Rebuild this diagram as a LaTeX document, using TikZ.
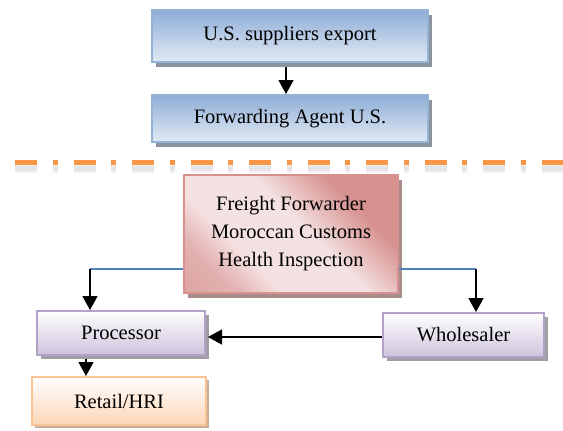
\documentclass[tikz,border=0pt]{standalone}
\usepackage{fontspec}
\setmainfont{Liberation Serif}
\usetikzlibrary{arrows.meta,shadows}
\definecolor{bluetop}{HTML}{8EADD6}
\definecolor{bluebot}{HTML}{E2EAF4}
\definecolor{blueborder}{HTML}{95B3D7}
\definecolor{blueshadow}{HTML}{8A939E}
\definecolor{pinkdark}{HTML}{D6908E}
\definecolor{pinkmid}{HTML}{E2B2B1}
\definecolor{pinklight}{HTML}{F4E2E2}
\definecolor{pinkborder}{HTML}{D7918F}
\definecolor{pinkshadow}{HTML}{A98C8C}
\definecolor{lavtop}{HTML}{FFFFFF}
\definecolor{lavbot}{HTML}{CDC3DC}
\definecolor{lavborder}{HTML}{B3A2C8}
\definecolor{lavshadow}{HTML}{A19EA8}
\definecolor{orgtop}{HTML}{FFFFFF}
\definecolor{orgbot}{HTML}{FCD6B6}
\definecolor{orgborder}{HTML}{F9C393}
\definecolor{orgshadow}{HTML}{C7AE98}
\definecolor{dashorange}{HTML}{F79646}
\definecolor{linkblue}{HTML}{4F81BD}
\pgfdeclarehorizontalshading{pinkdiag}{100bp}{color(0bp)=(pinkdark); color(26bp)=(pinkmid); color(36bp)=(pinklight); color(54bp)=(pinklight); color(70bp)=(pinkdark); color(100bp)=(pinkdark)}
\tikzset{
  box/.style={draw, line width=2pt, inner sep=0pt, align=center,
    font=\fontsize{20.5}{28}\selectfont},
  bluebox/.style={box, draw=blueborder, top color=bluetop, bottom color=bluebot,
    general shadow={fill=blueshadow, shadow xshift=4pt, shadow yshift=-5pt}},
  pinkbox/.style={box, draw=pinkborder, shading=pinkdiag, shading angle=45,
    general shadow={fill=pinkshadow, shadow xshift=4pt, shadow yshift=-5pt}},
  lavbox/.style={box, draw=lavborder, top color=lavtop, bottom color=lavbot,
    general shadow={fill=lavshadow, shadow xshift=4pt, shadow yshift=-4pt}},
  orgbox/.style={box, draw=orgborder, top color=orgtop, bottom color=orgbot,
    general shadow={fill=orgshadow, shadow xshift=3pt, shadow yshift=-3pt}},
  arr/.style={line width=1.6pt, -{Triangle[length=14pt,width=15pt]}},
  link/.style={line width=1.5pt, draw=linkblue},
  sep/.style={line width=5pt, dash pattern=on 22pt off 15.5pt on 5pt off 16pt},
}
\begin{document}
\begin{tikzpicture}[x=1pt,y=-1pt]
\useasboundingbox (0,0) rectangle (563,431);
% nodes
\node[bluebox, minimum width=276pt, minimum height=52pt] (sup) at (290,36) {U.S. suppliers export};
\node[bluebox, minimum width=276pt, minimum height=47pt] (fwd) at (290,118.5) {Forwarding Agent U.S.};
\node[pinkbox, minimum width=214pt, minimum height=118pt] (ff) at (291,234) {Freight Forwarder\\Moroccan Customs\\Health Inspection};
\node[lavbox, minimum width=168pt, minimum height=44pt] (proc) at (121,333) {Processor};
\node[lavbox, minimum width=161pt, minimum height=44pt] (whole) at (463.5,335) {Wholesaler};
\node[orgbox, minimum width=174pt, minimum height=48pt] (ret) at (119,401) {Retail/HRI};
% separator
\draw[sep, gray, opacity=0.10, line width=9pt] (15,168) -- (563,168);
\draw[sep, gray, opacity=0.12] (15,168) -- (563,168);
\draw[sep, dashorange] (15,162.5) -- (563,162.5);
% connectors
\coordinate (cl) at (90,269);
\coordinate (cr) at (476,269);
\draw[arr] ([xshift=-4pt,yshift=-4pt]sup.south) -- ([xshift=-4pt]fwd.north);
\draw[link] (ff.west |- cl) -- (cl);
\draw[link] (ff.east |- cr) -- (cr);
\draw[arr] (cl) -- (cl |- proc.north);
\draw[arr] (cr) -- (cr |- whole.north);
\draw[arr] ([yshift=-2pt]whole.west) -- ([xshift=2pt,yshift=-4pt]proc.east);
\draw[arr] ([xshift=-35pt,yshift=-3pt]proc.south) -- ([xshift=-33pt]ret.north);
\end{tikzpicture}
\end{document}
